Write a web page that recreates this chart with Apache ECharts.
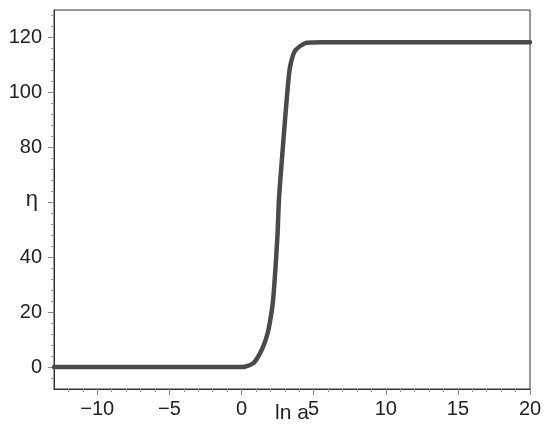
<!DOCTYPE html>
<html>
<head>
<meta charset="utf-8">
<script src="https://cdn.jsdelivr.net/npm/echarts@6/dist/echarts.min.js"></script>
<style>html,body{margin:0;padding:0;background:#fff}#c{width:550px;height:430px}</style>
</head>
<body>
<div id="c"></div>
<script>
const lnA = [-13, -5, -1, 0, 0.23, 0.81, 1.15, 1.5, 1.81, 2.03, 2.19, 2.36, 2.5, 2.6, 2.78, 2.96, 3.15, 3.33, 3.54, 3.75, 4.4, 5.0, 5.5, 10, 20];
const eta = [0, 0, 0, 0.03, 0.1, 1.35, 3.75, 7.4, 12.3, 18.3, 24.4, 36.5, 48.7, 61.5, 74.2, 86.3, 98.4, 108.2, 113.0, 115.4, 117.9, 118.2, 118.3, 118.3, 118.3];
const xTicks = [-10, -5, 0, 5, 10, 15, 20];
const yTicks = [0, 20, 40, 60, 80, 100, 120];
const yLabels = [0, 20, 40, 80, 100, 120];

const chart = echarts.init(document.getElementById('c'), null, {renderer: 'canvas'});
const font = 'Liberation Sans, Arial, sans-serif';
chart.setOption({
  animation: false,
  grid: {left: 54, right: 20, top: 10, bottom: 41, outerBoundsMode: 'none', containLabel: false,
    show: true, borderColor: '#333', borderWidth: 1, backgroundColor: 'transparent'},
  xAxis: {
    type: 'value', min: -13, max: 20, splitNumber: 7,
    name: 'ln a', nameLocation: 'middle', nameGap: 14, nameMoveOverlap: false,
    nameTextStyle: {fontFamily: font, fontSize: 21, color: '#222'},
    axisLine: {show: true, onZero: false, lineStyle: {color: '#333', width: 1}},
    axisTick: {show: true, inside: false, length: 6, lineStyle: {color: '#888'}, customValues: xTicks},
    minorTick: {show: true, splitNumber: 5, length: 3, lineStyle: {color: '#999'}},
    axisLabel: {fontFamily: font, fontSize: 20, color: '#222', margin: 10, customValues: xTicks,
      formatter: v => (v < 0 ? '\u2212' + Math.abs(v) : String(v))},
    splitLine: {show: false}
  },
  yAxis: {
    type: 'value', min: -8, max: 130, splitNumber: 7,
    name: '\u03b7', nameLocation: 'middle', nameGap: 16, nameRotate: 0, nameMoveOverlap: false,
    nameTextStyle: {fontFamily: font, fontSize: 22, color: '#222'},
    axisLine: {show: true, onZero: false, lineStyle: {color: '#333', width: 1}},
    axisTick: {show: true, inside: false, length: 6, lineStyle: {color: '#888'}, customValues: yTicks},
    minorTick: {show: true, splitNumber: 5, length: 3, lineStyle: {color: '#999'}},
    axisLabel: {fontFamily: font, fontSize: 20, color: '#222', margin: 12, customValues: yLabels},
    splitLine: {show: false}
  },
  series: [{
    type: 'line',
    data: lnA.map((x, i) => [x, eta[i]]),
    showSymbol: false, symbol: 'none',
    smooth: 0.25,
    lineStyle: {color: '#4a4a4a', width: 4.5, cap: 'round', join: 'round'}
  }]
});
</script>
</body>
</html>
